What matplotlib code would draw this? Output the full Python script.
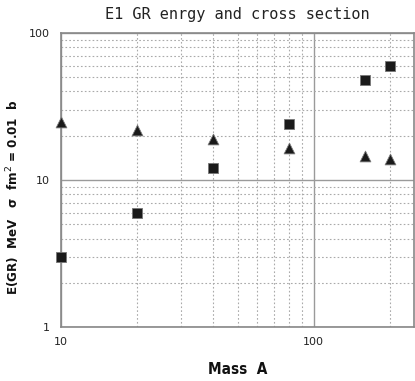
import numpy as np
import matplotlib.pyplot as plt
from matplotlib.ticker import LogLocator, FixedLocator, FixedFormatter, NullFormatter

# data
mass = [10, 20, 40, 80, 160, 200]
energy = [3, 6, 12, 24, 48, 60]          # squares
sigma = [25, 22, 19, 16.5, 14.5, 13.8]   # triangles

fig = plt.figure(figsize=(4.15, 3.81), dpi=100)
ax = fig.add_axes([0.147, 0.1417, 0.8506, 0.7717])

ax.set_xscale('log')
ax.set_yscale('log')
ax.set_xlim(10, 250)
ax.set_ylim(1, 100)

ax.scatter(mass, energy, marker='s', s=48, color='#1a1a1a', edgecolors='#777777',
           linewidths=0.6, zorder=3, clip_on=False)
ax.scatter(mass, sigma, marker='^', s=60, color='#1a1a1a', edgecolors='#777777',
           linewidths=0.6, zorder=3, clip_on=False)

# ticks and grid
ax.xaxis.set_major_locator(FixedLocator([10, 100]))
ax.xaxis.set_major_formatter(FixedFormatter(['10', '100']))
ax.xaxis.set_minor_locator(LogLocator(base=10, subs=np.arange(2, 10)))
ax.xaxis.set_minor_formatter(NullFormatter())
ax.yaxis.set_major_locator(FixedLocator([1, 10, 100]))
ax.yaxis.set_major_formatter(FixedFormatter(['1', '10', '100']))
ax.yaxis.set_minor_locator(LogLocator(base=10, subs=np.arange(2, 10)))
ax.yaxis.set_minor_formatter(NullFormatter())

ax.grid(which='major', color='#9a9a9a', linewidth=1.0, linestyle='-')
ax.grid(which='minor', color='#aaaaaa', linewidth=0.8, linestyle=(0, (1.5, 2)))
ax.tick_params(which='both', length=0, labelsize=8, pad=8, colors='#222222')
ax.tick_params(axis='x', pad=7)
for s in ax.spines.values():
    s.set_color('#888888')
    s.set_linewidth(1.2)

lab = dict(fontweight='bold', family='DejaVu Sans', fontstretch='condensed', color='#111111')
ax.set_title('E1 GR enrgy and cross section', fontsize=11, family='DejaVu Sans Mono',
             color='#222222', pad=10)
ax.set_xlabel('Mass  A', fontsize=11, **lab)
ax.xaxis.set_label_coords(0.5, -0.12)
ax.set_ylabel('E(GR)  MeV   σ  fm$^2$ = 0.01  b', fontsize=9.5, **lab)
ax.yaxis.set_label_coords(-0.11, 0.44)

fig.savefig('out.png', dpi=100)
